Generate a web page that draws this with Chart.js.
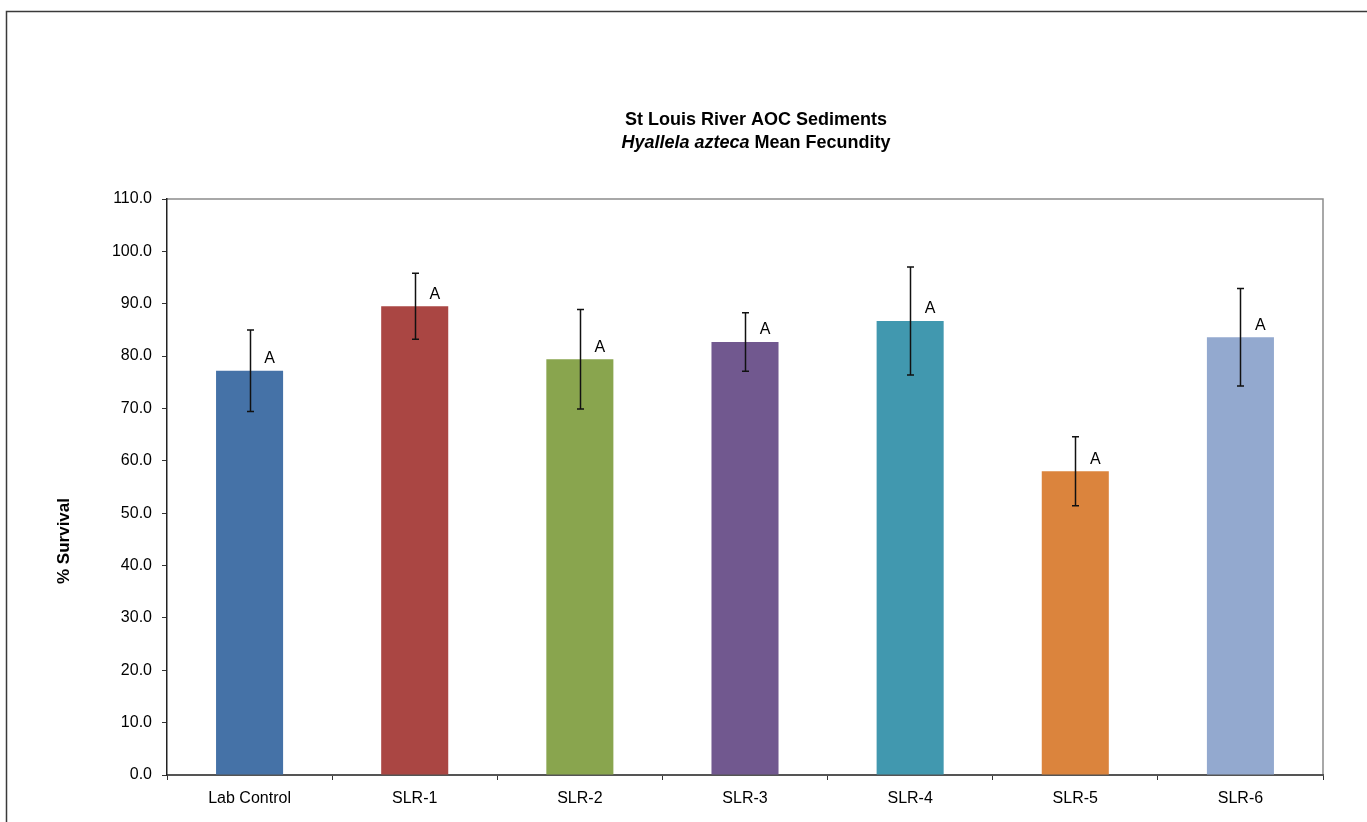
<!DOCTYPE html>
<html>
<head>
<meta charset="utf-8">
<title>St Louis River AOC Sediments</title>
<script src="https://cdn.jsdelivr.net/npm/chart.js@4"></script>
<style>
  html, body { margin: 0; padding: 0; background: #fff; }
  #wrap { width: 1367px; height: 822px; }
</style>
</head>
<body>
<div id="wrap"><canvas id="survivalChart" width="1367" height="822"></canvas></div>
<script>
// sites and mean values
var sites = ["Lab Control", "SLR-1", "SLR-2", "SLR-3", "SLR-4", "SLR-5", "SLR-6"];
var meanValues = [77.2, 89.5, 79.4, 82.7, 86.7, 58.0, 83.6];
var errorValues = [7.8, 6.3, 9.5, 5.6, 10.3, 6.6, 9.3];
var groupLetters = ["A", "A", "A", "A", "A", "A", "A"];
var barColors = ["#4572A7", "#AA4643", "#89A54E", "#71588F", "#4198AF", "#DB843D", "#93A9CF"];
var yTicks = [0, 10, 20, 30, 40, 50, 60, 70, 80, 90, 100, 110];

var FONT = "Arial, 'Liberation Sans', sans-serif";

// outer frame, top/right plot border, title and y title
var decorations = {
  id: "decorations",
  beforeDraw: function (chart) {
    var ctx = chart.ctx;
    var area = chart.chartArea;
    ctx.save();
    ctx.strokeStyle = "#3a3a3a";
    ctx.lineWidth = 1.5;
    ctx.strokeRect(6.5, 11.5, 1400, 900);

    ctx.strokeStyle = "#8c8c8c";
    ctx.lineWidth = 1.5;
    ctx.beginPath();
    ctx.moveTo(area.left, area.top);
    ctx.lineTo(area.right, area.top);
    ctx.lineTo(area.right, area.bottom);
    ctx.stroke();
    ctx.restore();
  },
  afterDraw: function (chart) {
    var ctx = chart.ctx;
    var area = chart.chartArea;
    var cx = (area.left + area.right) / 2 + 11;
    ctx.save();
    ctx.fillStyle = "#000";
    ctx.textBaseline = "middle";
    ctx.textAlign = "center";
    ctx.font = "bold 18px " + FONT;
    ctx.fillText("St Louis River AOC Sediments", cx, 120);

    // second line mixes italic species name with plain bold
    var part1 = "Hyallela azteca";
    var part2 = " Mean Fecundity";
    ctx.font = "italic bold 18px " + FONT;
    var w1 = ctx.measureText(part1).width;
    ctx.font = "bold 18px " + FONT;
    var w2 = ctx.measureText(part2).width;
    var x0 = cx - (w1 + w2) / 2;
    ctx.textAlign = "left";
    ctx.font = "italic bold 18px " + FONT;
    ctx.fillText(part1, x0, 143);
    ctx.font = "bold 18px " + FONT;
    ctx.fillText(part2, x0 + w1, 143);

    // y axis title, sits a little below the axis middle
    ctx.translate(64, (area.top + area.bottom) / 2 + 54);
    ctx.rotate(-Math.PI / 2);
    ctx.textAlign = "center";
    ctx.font = "bold 17px " + FONT;
    ctx.fillText("% Survival", 0, 0);
    ctx.restore();
  }
};

// error bars and letter labels drawn on top of each bar
var errorBars = {
  id: "errorBars",
  afterDatasetsDraw: function (chart) {
    var ctx = chart.ctx;
    var yScale = chart.scales.y;
    var meta = chart.getDatasetMeta(0);
    ctx.save();
    meta.data.forEach(function (bar, i) {
      var x = Math.round(bar.x) + 0.5;
      var yHi = yScale.getPixelForValue(meanValues[i] + errorValues[i]);
      var yLo = yScale.getPixelForValue(meanValues[i] - errorValues[i]);
      ctx.strokeStyle = "#111";
      ctx.lineWidth = 1.5;
      ctx.beginPath();
      ctx.moveTo(x, yHi);
      ctx.lineTo(x, yLo);
      ctx.moveTo(x - 3.5, yHi);
      ctx.lineTo(x + 3.5, yHi);
      ctx.moveTo(x - 3.5, yLo);
      ctx.lineTo(x + 3.5, yLo);
      ctx.stroke();

      ctx.fillStyle = "#000";
      ctx.font = "16px " + FONT;
      ctx.textAlign = "center";
      ctx.textBaseline = "bottom";
      ctx.fillText(groupLetters[i], bar.x + 20, bar.y - 4);
    });
    ctx.restore();
  }
};

var ctx = document.getElementById("survivalChart").getContext("2d");
new Chart(ctx, {
  type: "bar",
  data: {
    labels: sites,
    datasets: [{
      data: meanValues,
      backgroundColor: barColors,
      borderWidth: 0,
      categoryPercentage: 1.0,
      barPercentage: 0.406
    }]
  },
  options: {
    responsive: false,
    animation: false,
    layout: { padding: { left: 87, top: 199, right: 44, bottom: 12 } },
    plugins: {
      legend: { display: false },
      tooltip: { enabled: false },
      title: { display: false }
    },
    scales: {
      x: {
        afterFit: function (scale) { scale.height = 35; },
        grid: {
          offset: true,
          drawOnChartArea: false,
          drawTicks: true,
          tickLength: 5,
          color: "#333",
          lineWidth: 1
        },
        border: { color: "#555", width: 2 },
        ticks: {
          color: "#000",
          font: { family: FONT, size: 16 },
          padding: 9
        }
      },
      y: {
        min: 0,
        max: 110,
        afterFit: function (scale) { scale.width = 80; },
        afterBuildTicks: function (scale) {
          scale.ticks = yTicks.map(function (v) { return { value: v }; });
        },
        grid: {
          drawOnChartArea: false,
          drawTicks: true,
          tickLength: 5,
          color: "#333",
          lineWidth: 1
        },
        border: { color: "#222", width: 1.5 },
        ticks: {
          color: "#000",
          font: { family: FONT, size: 16 },
          padding: 10,
          callback: function (v) { return Number(v).toFixed(1); }
        }
      }
    }
  },
  plugins: [decorations, errorBars]
});
</script>
</body>
</html>
